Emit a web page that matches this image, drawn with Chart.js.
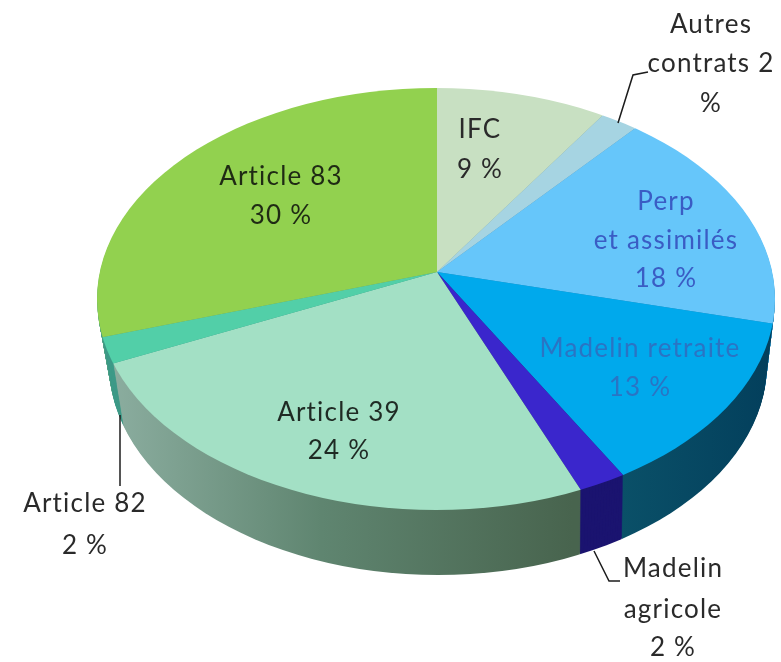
<!DOCTYPE html>
<html lang="fr">
<head>
    <meta charset="UTF-8">
    <title>Répartition des contrats</title>
    <script src="https://cdn.jsdelivr.net/npm/chart.js"></script>
    <style>
        body { margin: 0; background: #fff; }
        canvas { display: block; filter: blur(0.7px); }
    </style>
</head>
<body>
    <canvas id="pieChart" width="781" height="662"></canvas>

    <script>
        const categories = ['IFC', 'Autres contrats', 'Perp et assimilés', 'Madelin retraite', 'Madelin agricole', 'Article 39', 'Article 82', 'Article 83'];
        const values = [9, 2, 18, 13, 2, 24, 2, 30];
        const topColors = ['#c8e0c2', '#a6d4e2', '#66c6fa', '#00a9ec', '#3a26cc', '#a3e0c5', '#52cfa8', '#92d14f'];
        const sideColors = ['#8fa88a', '#6f9aa8', '#2f86b4', '#04506f', '#1b1470', '#5d7f6c', '#3f9a88', '#4f9f84'];

        // texte des étiquettes : lignes, centre x, centre y de chaque ligne, couleur
        const labels = [
            { lines: ['IFC', '9 %'], x: 480, y: [130, 170], color: '#2a2a2a' },
            { lines: ['Autres', 'contrats 2', '%'], x: 711, y: [25, 64, 104], color: '#2a2a2a' },
            { lines: ['Perp', 'et assimilés', '18 %'], x: 666, y: [202, 241, 279], color: '#3a5cc4' },
            { lines: ['Madelin retraite', '13 %'], x: 640, y: [349, 388], color: '#2a74c4' },
            { lines: ['Madelin', 'agricole', '2 %'], x: 673, y: [569, 610, 648], color: '#2a2a2a' },
            { lines: ['Article 39', '24 %'], x: 339, y: [413, 451], color: '#1f2a24' },
            { lines: ['Article 82', '2 %'], x: 85, y: [504, 546], color: '#2a2a2a' },
            { lines: ['Article 83', '30 %'], x: 281, y: [177, 216], color: '#1f2a14' }
        ];

        // traits de rappel
        const leaders = [
            [[618, 123], [633, 75], [648, 72]],
            [[120, 415], [120, 486]],
            [[594, 551], [609, 581], [620, 581]]
        ];

        // face du dessus : ellipse + point où les parts se rejoignent
        const apex = { x: 437, y: 272 };
        const squash = 0.6;
        const top3d = { x: 436, y: 299, rx: 339, ry: 211 };
        const depth = 65;

        function drawFace(chart, arcs, styles, shift, shrink, drift) {
            const ctx = chart.ctx;
            ctx.save();
            ctx.beginPath();
            ctx.ellipse(top3d.x + drift, top3d.y + shift, top3d.rx - shrink, top3d.ry, 0, 0, Math.PI * 2);
            ctx.clip();
            ctx.translate(apex.x, apex.y + shift);
            ctx.scale(1, squash);
            ctx.translate(-arcs[0].x, -arcs[0].y);
            arcs.forEach((arc, i) => {
                // même arc que la librairie, seule la couleur change
                const ghost = Object.create(arc);
                ghost.options = Object.assign({}, arc.options, { backgroundColor: styles[i] });
                ghost.draw(ctx);
            });
            ctx.restore();
        }

        const pie3d = {
            id: 'pie3d',
            beforeDatasetsDraw(chart) {
                const arcs = chart.getDatasetMeta(0).data;
                const ctx = chart.ctx;
                const cx = arcs[0].x;

                // dégradés horizontaux des flancs
                const sides = sideColors.slice();
                const grad39 = ctx.createLinearGradient(cx - 320, 0, cx + 135, 0);
                grad39.addColorStop(0, '#8aac9e');
                grad39.addColorStop(0.45, '#5f8570');
                grad39.addColorStop(1, '#48644e');
                sides[5] = grad39;
                const gradRet = ctx.createLinearGradient(cx + 185, 0, cx + 335, 0);
                gradRet.addColorStop(0, '#0a5068');
                gradRet.addColorStop(1, '#033f5c');
                sides[3] = gradRet;

                for (let d = depth; d > 0; d--) {
                    drawFace(chart, arcs, sides, d, 10 * d / depth, 2 * d / depth);
                }
                drawFace(chart, arcs, topColors, 0, 0, 0);
                return false;
            },
            afterDraw(chart) {
                const ctx = chart.ctx;
                ctx.save();
                ctx.strokeStyle = '#1c1c1c';
                ctx.lineWidth = 1.5;
                leaders.forEach(points => {
                    ctx.beginPath();
                    points.forEach((p, i) => i ? ctx.lineTo(p[0], p[1]) : ctx.moveTo(p[0], p[1]));
                    ctx.stroke();
                });
                ctx.font = '26px Lato';
                ctx.letterSpacing = '1.2px';
                ctx.textAlign = 'center';
                ctx.textBaseline = 'middle';
                labels.forEach(label => {
                    ctx.fillStyle = label.color;
                    label.lines.forEach((line, i) => ctx.fillText(line, label.x, label.y[i]));
                });
                ctx.restore();
            }
        };

        new Chart(document.getElementById('pieChart'), {
            type: 'pie',
            data: {
                labels: categories,
                datasets: [{ data: values, backgroundColor: topColors, borderWidth: 0 }]
            },
            options: {
                responsive: false,
                animation: false,
                radius: 420,
                plugins: { legend: { display: false }, tooltip: { enabled: false } }
            },
            plugins: [pie3d]
        });
    </script>
</body>
</html>
